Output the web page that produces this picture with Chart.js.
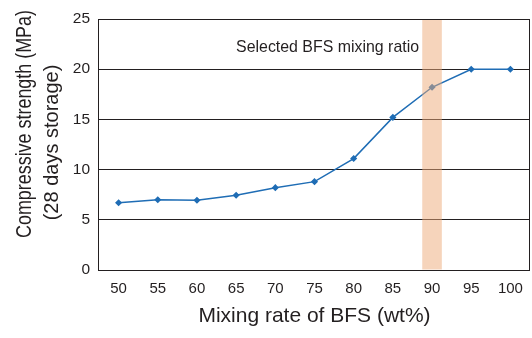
<!DOCTYPE html>
<html>
<head>
<meta charset="utf-8">
<script src="https://cdn.jsdelivr.net/npm/chart.js@4"></script>
<style>
  html, body { margin: 0; padding: 0; background: #fff; }
  #wrap { width: 532px; height: 338px; }
</style>
</head>
<body>
<div id="wrap"><canvas id="chart" width="532" height="338"></canvas></div>
<script>
// === data ===
const mixRates = ['50','55','60','65','70','75','80','85','90','95','100'];
const strength = [6.7, 7.0, 6.95, 7.45, 8.2, 8.8, 11.1, 15.2, 18.2, 20.0, 20.0];
const selectedRate = '90';
const yTicks = [0, 5, 10, 15, 20, 25];

const textColor = '#231f20';
const fontFamily = '"Liberation Sans", Arial, Helvetica, sans-serif';

// band for the selected mixing ratio
const band = mixRates.map(r => r === selectedRate ? [yTicks[0], yTicks[yTicks.length - 1]] : null);

// the original uses a narrow Helvetica, so squeeze text to its width
function fitText(ctx, text, width) {
  const w = ctx.measureText(text).width;
  const k = Math.min(1, width / w);
  ctx.save();
  ctx.scale(k, 1);
  ctx.fillText(text, 0, 0);
  ctx.restore();
}

// frame + labels drawn on the canvas
const extras = {
  id: 'extras',
  afterDraw(chart) {
    const ctx = chart.ctx;
    const a = chart.chartArea;
    const x = chart.scales.x, y = chart.scales.y;
    ctx.save();
    ctx.strokeStyle = '#231f20';
    ctx.lineWidth = 1;
    ctx.strokeRect(Math.round(a.left) - 0.5, Math.round(a.top) + 0.5,
                   Math.round(a.right - a.left), Math.round(a.bottom - a.top));

    ctx.fillStyle = textColor;
    ctx.textBaseline = 'alphabetic';

    // annotation, right aligned just left of the band
    ctx.font = '17px ' + fontFamily;
    ctx.textAlign = 'right';
    const bx = x.getPixelForValue(mixRates.indexOf(selectedRate));
    ctx.save();
    ctx.translate(bx - 13, y.getPixelForValue(20) - 17.5);
    fitText(ctx, 'Selected BFS mixing ratio', 183);
    ctx.restore();

    // x title
    ctx.font = '21px ' + fontFamily;
    ctx.textAlign = 'center';
    ctx.save();
    ctx.translate((a.left + a.right) / 2, 321.5);
    fitText(ctx, 'Mixing rate of BFS (wt%)', 234);
    ctx.restore();

    // y title (two lines)
    ctx.save();
    ctx.font = '22px ' + fontFamily;
    ctx.translate(30.5, 124);
    ctx.rotate(-Math.PI / 2);
    fitText(ctx, 'Compressive strength (MPa)', 228);
    ctx.restore();
    ctx.save();
    ctx.font = '20px ' + fontFamily;
    ctx.translate(57.5, 142.5);
    ctx.rotate(-Math.PI / 2);
    fitText(ctx, '(28 days storage)', 161);
    ctx.restore();
    ctx.restore();
  }
};

const ctx = document.getElementById('chart').getContext('2d');
new Chart(ctx, {
  data: {
    labels: mixRates,
    datasets: [
      {
        type: 'bar',
        data: band,
        backgroundColor: 'rgba(238,170,120,0.5)',
        borderWidth: 0,
        barPercentage: 0.5,
        categoryPercentage: 1,
        order: 0
      },
      {
        type: 'line',
        data: strength,
        borderColor: '#1f6db5',
        backgroundColor: '#1f6db5',
        borderWidth: 1.5,
        pointStyle: 'rectRot',
        pointRadius: 2.5,
        tension: 0,
        order: 1
      }
    ]
  },
  options: {
    responsive: false,
    animation: false,
    // no extra room for point overflow, the frame sits at the canvas edge
    layout: { autoPadding: false, padding: { left: 0, right: 2, top: 19, bottom: 0 } },
    plugins: { legend: { display: false }, tooltip: { enabled: false } },
    scales: {
      x: {
        type: 'category',
        offset: true,
        grid: { display: false },
        border: { display: false },
        ticks: { color: textColor, font: { family: fontFamily, size: 15 }, padding: 2 },
        afterFit(s) { s.height = 68; }
      },
      y: {
        min: 0,
        max: 25,
        afterBuildTicks(s) { s.ticks = yTicks.map(v => ({ value: v })); },
        grid: { color: '#231f20', lineWidth: 1, drawTicks: false },
        border: { display: false },
        ticks: { color: textColor, font: { family: fontFamily, size: 15.5 }, padding: 9 },
        afterFit(s) { s.width = 99; }
      }
    }
  },
  plugins: [extras]
});
</script>
</body>
</html>
